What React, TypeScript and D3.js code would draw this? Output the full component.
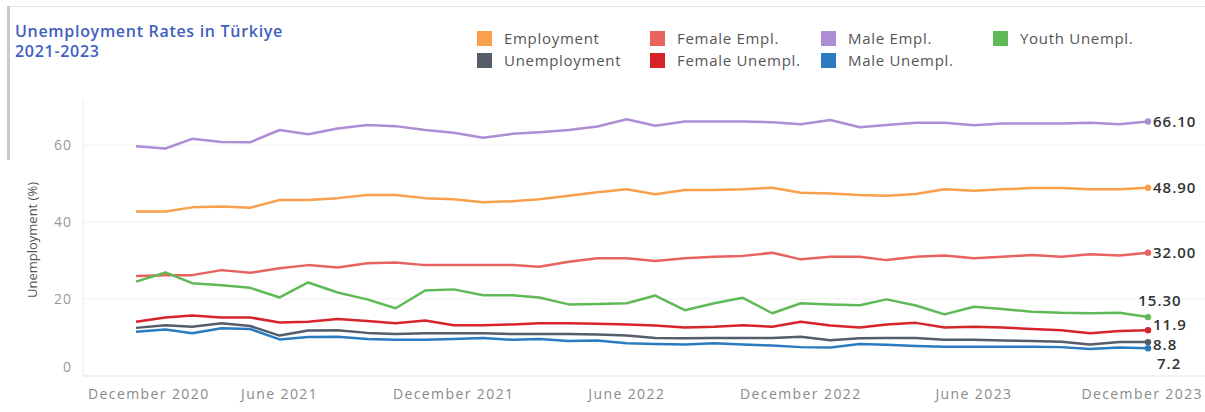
import React from "react";
import * as d3 from "d3";

// ---- Data (monthly, January 2021 – December 2023) ----
const months: Date[] = d3.timeMonths(new Date(2021, 0, 1), new Date(2024, 0, 1));

const employment = [42.7, 42.7, 43.8, 44.0, 43.7, 45.7, 45.7, 46.2, 47.0, 47.0, 46.2, 45.9, 45.1, 45.4, 45.9, 46.8, 47.7, 48.5, 47.2, 48.3, 48.3, 48.5, 48.9, 47.6, 47.4, 47.0, 46.8, 47.3, 48.5, 48.1, 48.5, 48.8, 48.8, 48.5, 48.5, 48.9];
const femaleEmpl = [26.0, 26.2, 26.2, 27.5, 26.8, 28.0, 28.8, 28.2, 29.3, 29.5, 28.8, 28.8, 28.8, 28.8, 28.4, 29.7, 30.6, 30.6, 29.9, 30.6, 31.0, 31.2, 32.0, 30.3, 31.0, 31.0, 30.1, 31.0, 31.3, 30.6, 31.0, 31.4, 31.0, 31.6, 31.3, 32.0];
const maleEmpl = [59.7, 59.1, 61.6, 60.8, 60.7, 63.9, 62.8, 64.3, 65.2, 64.9, 63.9, 63.2, 61.9, 62.9, 63.3, 63.9, 64.8, 66.7, 65.0, 66.1, 66.1, 66.1, 65.9, 65.4, 66.5, 64.6, 65.2, 65.8, 65.8, 65.1, 65.6, 65.6, 65.6, 65.8, 65.4, 66.1];
const youthUnempl = [24.5, 26.9, 24.1, 23.6, 22.9, 20.4, 24.3, 21.7, 19.9, 17.6, 22.2, 22.5, 21.0, 21.0, 20.4, 18.6, 18.7, 18.9, 20.9, 17.1, 18.9, 20.3, 16.3, 18.9, 18.6, 18.4, 19.9, 18.3, 16.0, 18.0, 17.4, 16.7, 16.4, 16.3, 16.4, 15.3];
const unemployment = [12.5, 13.2, 12.8, 13.7, 13.0, 10.5, 11.8, 11.9, 11.2, 10.9, 11.1, 11.1, 11.1, 10.9, 10.9, 10.9, 10.8, 10.5, 9.9, 9.8, 9.9, 9.9, 9.9, 10.2, 9.3, 9.8, 9.9, 9.9, 9.4, 9.4, 9.2, 9.1, 8.9, 8.2, 8.8, 8.8];
const femaleUnempl = [14.1, 15.2, 15.7, 15.2, 15.2, 13.9, 14.1, 14.8, 14.3, 13.7, 14.4, 13.2, 13.2, 13.4, 13.7, 13.7, 13.6, 13.4, 13.1, 12.6, 12.8, 13.2, 12.8, 14.1, 13.1, 12.6, 13.4, 13.8, 12.6, 12.8, 12.6, 12.2, 11.9, 11.1, 11.7, 11.9];
const maleUnempl = [11.5, 12.1, 11.1, 12.4, 12.2, 9.5, 10.1, 10.2, 9.6, 9.4, 9.4, 9.6, 9.9, 9.4, 9.6, 9.1, 9.2, 8.5, 8.3, 8.2, 8.5, 8.2, 7.9, 7.5, 7.4, 8.3, 8.1, 7.8, 7.6, 7.6, 7.6, 7.6, 7.5, 7.0, 7.4, 7.2];

const seriesNames = ["Employment", "Female Empl.", "Male Empl.", "Youth Unempl.", "Unemployment", "Female Unempl.", "Male Unempl."];
const seriesValues = [employment, femaleEmpl, maleEmpl, youthUnempl, unemployment, femaleUnempl, maleUnempl];
const seriesColors = ["#f8a04b", "#e8625e", "#ad8dd3", "#5fb957", "#555c6a", "#d62429", "#2a7bbf"];
const endLabels = ["48.90", "32.00", "66.10", "15.30", "8.8", "11.9", "7.2"];

const xTickDates = [new Date(2020, 11, 1), new Date(2021, 5, 1), new Date(2021, 11, 1), new Date(2022, 5, 1), new Date(2022, 11, 1), new Date(2023, 5, 1), new Date(2023, 11, 1)];
const xTickLabels = ["December 2020", "June 2021", "December 2021", "June 2022", "December 2022", "June 2023", "December 2023"];
const yTicks = [0, 20, 40, 60];

const titleLines = ["Unemployment Rates in Türkiye", "2021-2023"];
const yAxisTitle = "Unemployment (%)";

// ---- Layout ----
const W = 1205;
const H = 412;
const axisX = 83;
const plotTop = 100;
const plotRight = 1205;
const FONT = "'Open Sans', 'DejaVu Sans', sans-serif";

// end-label placement per series (dx, dy, anchor)
const labelPlacement: Record<string, { dx: number; dy: number; anchor: string }> = {
  "Employment": { dx: 5, dy: 5, anchor: "start" },
  "Female Empl.": { dx: 5, dy: 5, anchor: "start" },
  "Male Empl.": { dx: 5, dy: 5, anchor: "start" },
  "Youth Unempl.": { dx: 12, dy: -11, anchor: "middle" },
  "Female Unempl.": { dx: 5, dy: 0, anchor: "start" },
  "Unemployment": { dx: 5, dy: 8, anchor: "start" },
  "Male Unempl.": { dx: 9, dy: 21, anchor: "start" },
};

const legendCols = [477, 650, 821, 993];
const legendRows = [31, 53];
const legendLayout = [
  [0, 0], [1, 0], [2, 0], [3, 0],
  [0, 1], [1, 1], [2, 1],
];

const X_LS = 1.4;
let measureCtx: CanvasRenderingContext2D | null = null;
function textWidth(s: string, font: string, ls: number) {
  if (!measureCtx) measureCtx = document.createElement("canvas").getContext("2d");
  if (!measureCtx) return s.length * 8;
  measureCtx.font = font;
  return measureCtx.measureText(s).width + ls * s.length;
}

export default function App() {
  const x = d3.scaleTime().domain([months[0], months[months.length - 1]]).range([136, 1148]);
  const y = d3.scaleLinear().domain([0, 60]).range([376, 145]);

  const line = d3
    .line<number>()
    .x((_, i) => x(months[i]))
    .y((d) => y(d));

  const xFont = `14px ${FONT}`;

  return (
    <div style={{ position: "fixed", left: 0, top: 0, width: W, height: H, background: "#fff" }}>
      <svg width={W} height={H} style={{ display: "block", fontFamily: FONT }}>
        <rect x={0} y={0} width={W} height={H} fill="#fff" />
        {/* frame */}
        <line x1={8} x2={W} y1={6.5} y2={6.5} stroke="#e6e6e6" strokeWidth={1} />
        <rect x={7} y={6} width={3} height={154} fill="#c9c9c9" />

        {/* title */}
        {titleLines.map((t, i) => (
          <text key={t} x={15} y={37 + i * 20} fill="#3f5fc0" fontSize={16} fontWeight={600} letterSpacing={0.7}>
            {t}
          </text>
        ))}

        {/* legend */}
        {seriesNames.map((name, i) => {
          const [c, r] = legendLayout[i];
          const lx = legendCols[c];
          const ly = legendRows[r];
          return (
            <g key={name}>
              <rect x={lx} y={ly} width={15} height={15} fill={seriesColors[i]} />
              <text x={lx + 27} y={ly + 12.5} fill="#555" fontSize={15} letterSpacing={0.7}>
                {name}
              </text>
            </g>
          );
        })}

        {/* grid */}
        {yTicks.map((t) => (
          <line key={t} x1={axisX} x2={plotRight} y1={y(t)} y2={y(t)} stroke={t === 0 ? "#e2e2e2" : "#efefef"} strokeWidth={1} />
        ))}
        <line x1={axisX} x2={axisX} y1={plotTop} y2={y(0)} stroke="#ececec" strokeWidth={1} />

        {/* y tick labels */}
        {yTicks.map((t) => (
          <text key={t} x={72} y={Math.min(y(t), 367) + 5} textAnchor="end" fill="#999" fontSize={14} letterSpacing={1}>
            {t}
          </text>
        ))}
        <text
          transform={`translate(37, ${240}) rotate(-90)`}
          textAnchor="middle"
          fill="#555"
          fontSize={13}
        >
          {yAxisTitle}
        </text>

        {/* x tick labels */}
        {xTickLabels.map((lab, i) => {
          const w = textWidth(lab, xFont, X_LS);
          let cx = x(xTickDates[i]);
          cx = Math.max(cx, axisX + 5 + w / 2);
          cx = Math.min(cx, W - 2 - w / 2);
          return (
            <text key={lab} x={cx - w / 2} y={399} fill="#8a8a8a" fontSize={14} letterSpacing={X_LS}>
              {lab}
            </text>
          );
        })}

        {/* lines */}
        {seriesValues.map((vals, i) => (
          <path key={seriesNames[i]} d={line(vals) || ""} fill="none" stroke={seriesColors[i]} strokeWidth={2.5} strokeLinejoin="round" />
        ))}

        {/* end markers & labels */}
        {seriesValues.map((vals, i) => {
          const last = vals.length - 1;
          const px = x(months[last]);
          const py = y(vals[last]);
          const p = labelPlacement[seriesNames[i]];
          return (
            <g key={seriesNames[i]}>
              <circle cx={px} cy={py} r={3.2} fill={seriesColors[i]} />
              <text x={px + p.dx} y={py + p.dy} textAnchor={p.anchor as any} fill="#333" fontSize={15} fontWeight={600} letterSpacing={1}>
                {endLabels[i]}
              </text>
            </g>
          );
        })}
      </svg>
    </div>
  );
}
